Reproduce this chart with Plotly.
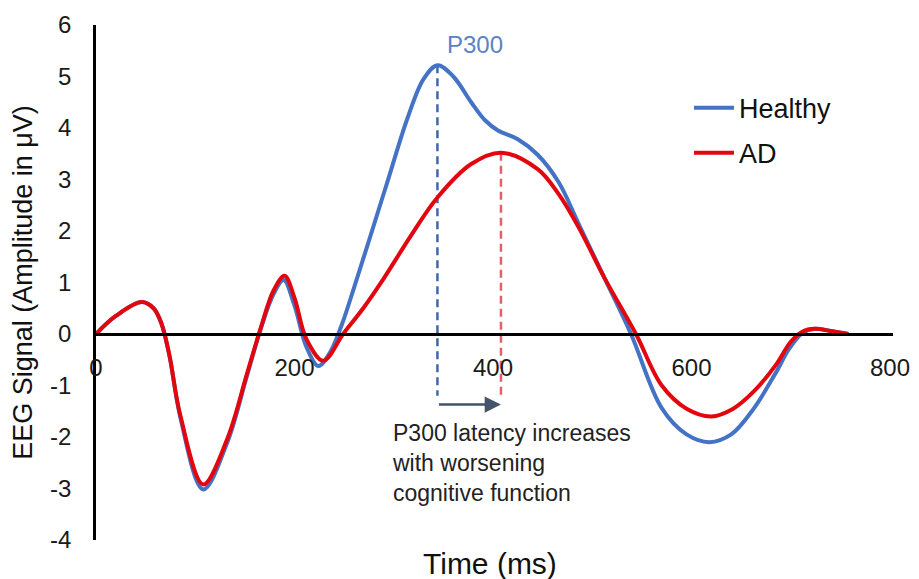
import plotly.graph_objects as go

# ---- data ----
healthy_x = [0, 20, 46, 58, 66, 74, 85, 108, 132, 152, 166, 179, 189, 200, 212, 224, 236, 248, 260, 274, 294, 314, 330, 344, 360, 378, 392, 405, 425, 445, 466, 486, 512, 539, 570, 595, 618, 640, 663, 685, 698, 712, 724, 740, 758]
healthy_y = [0, 0.35, 0.62, 0.5, 0.2, -0.42, -1.62, -3.02, -2.12, -0.82, 0.1, 0.78, 1.05, 0.55, -0.25, -0.62, -0.35, 0.2, 0.9, 1.75, 2.98, 4.2, 4.95, 5.22, 5.0, 4.5, 4.15, 3.95, 3.78, 3.48, 2.95, 2.15, 1.1, 0, -1.44, -1.95, -2.1, -1.95, -1.44, -0.75, -0.3, 0.02, 0.1, 0.06, 0]

ad_x = [0, 20, 46, 58, 66, 74, 85, 108, 132, 152, 166, 179, 190, 200, 212, 229, 249, 270, 290, 317, 344, 378, 408, 445, 466, 486, 512, 544, 570, 595, 620, 642, 663, 685, 700, 712, 724, 740, 758]
ad_y = [0, 0.35, 0.62, 0.5, 0.2, -0.42, -1.58, -2.92, -2.05, -0.78, 0.12, 0.85, 1.13, 0.7, -0.1, -0.52, 0, 0.52, 1.08, 1.9, 2.65, 3.3, 3.52, 3.2, 2.72, 2.08, 1.1, 0, -1.0, -1.45, -1.6, -1.45, -1.11, -0.6, -0.15, 0.05, 0.1, 0.06, 0]

x_ticks = [0, 200, 400, 600, 800]
y_ticks = [-4, -3, -2, -1, 0, 1, 2, 3, 4, 5, 6]

series_names = ["Healthy", "AD"]
annotation_text = "P300 latency increases<br>with worsening<br>cognitive function"

BLUE = "#4472C4"
RED = "#E3060F"
FONT = "Liberation Sans, Arial, sans-serif"

hp = healthy_y.index(max(healthy_y))
ap = ad_y.index(max(ad_y))
peak_h_x, peak_h_y = healthy_x[hp], healthy_y[hp]
peak_a_x, peak_a_y = ad_x[ap], ad_y[ap]
dash_bottom = -1.2
arrow_y = -1.37

fig = go.Figure()

# dashed latency markers
fig.add_trace(go.Scatter(x=[peak_h_x, peak_h_x], y=[peak_h_y, dash_bottom], mode="lines",
                         line=dict(color="#4169A8", width=2.5, dash="8px,5px"), showlegend=False, hoverinfo="skip"))
fig.add_trace(go.Scatter(x=[peak_a_x, peak_a_x], y=[peak_a_y, dash_bottom], mode="lines",
                         line=dict(color="#E0606E", width=2.5, dash="8px,5px"), showlegend=False, hoverinfo="skip"))

fig.add_trace(go.Scatter(x=healthy_x, y=healthy_y, mode="lines", name=series_names[0],
                         line=dict(color=BLUE, width=4, shape="spline", smoothing=1.0), legendgroup="h"))
fig.add_trace(go.Scatter(x=ad_x, y=ad_y, mode="lines", name=series_names[1],
                         line=dict(color=RED, width=4, shape="spline", smoothing=1.0), legendgroup="a"))

# page body has an 8px margin: figure is sized/offset to compensate
fig.update_layout(
    width=911, height=571,
    margin=dict(l=88, r=26, t=17, b=39),
    paper_bgcolor="white", plot_bgcolor="white",
    font=dict(family=FONT, color="#000000"),
    legend=dict(x=0.744, y=0.886, xanchor="left", yanchor="top", font=dict(size=27, family=FONT, color="#111"),
                bgcolor="rgba(0,0,0,0)", tracegroupgap=7, itemwidth=40),
    xaxis=dict(range=[0, 803], tickvals=x_ticks, ticktext=[str(v) for v in x_ticks],
               showgrid=False, zeroline=False, showline=True, linecolor="black", linewidth=2.5,
               anchor="free", position=0.4, ticks="", ticklabelstandoff=11, automargin=False,
               tickfont=dict(size=24, family=FONT, color="#1a1a1a")),
    yaxis=dict(range=[-4, 6], tickvals=y_ticks, ticktext=[str(v) for v in y_ticks],
               showgrid=False, zeroline=False, showline=True, linecolor="black", linewidth=2.5,
               ticks="", ticklabelstandoff=17, automargin=False,
               tickfont=dict(size=24, family=FONT, color="#1a1a1a"),
               title=dict(text="EEG Signal (Amplitude in μV)", font=dict(size=27, family=FONT, color="#111"),
                          standoff=10)),
)

fig.add_annotation(x=0.5 * (x_ticks[0] + x_ticks[-1]) - 3, xref="x", y=0, yref="paper", yshift=-23,
                   text="Time (ms)", showarrow=False, font=dict(size=30, family=FONT, color="#111"),
                   yanchor="middle")

fig.add_annotation(x=peak_h_x + 38, y=peak_h_y + 0.4, text="P300", showarrow=False,
                   font=dict(size=24, family=FONT, color="#5B82C6"), yanchor="middle")

fig.add_annotation(x=peak_a_x, y=arrow_y, ax=peak_h_x, ay=arrow_y, axref="x", ayref="y",
                   xref="x", yref="y", text="", showarrow=True, arrowhead=2, arrowsize=1.3,
                   arrowwidth=2.5, arrowcolor="#44546A")

fig.add_annotation(x=296, y=-2.5, text=annotation_text, showarrow=False, align="left",
                   xanchor="left", yanchor="middle", font=dict(size=23, family=FONT, color="#222"))

fig.write_html("out.html")
